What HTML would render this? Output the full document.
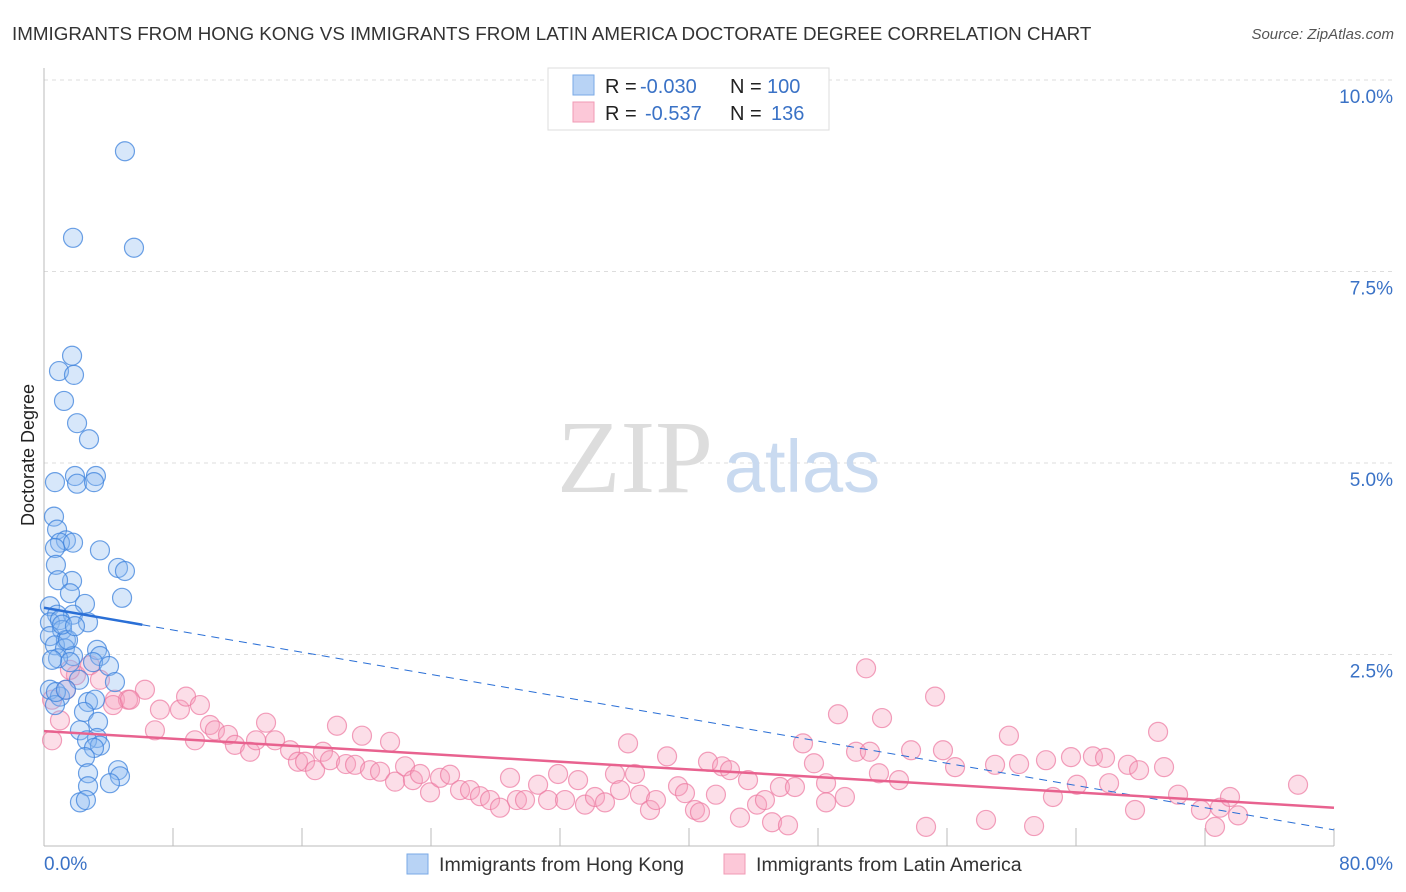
<!DOCTYPE html>
<html><head><meta charset="utf-8"><style>
html,body{margin:0;padding:0;background:#fff;}
svg{display:block;font-family:"Liberation Sans",sans-serif;}
</style></head><body>
<svg id="chart" width="1406" height="892">
<text x="12" y="40" font-size="18.8" fill="#333">IMMIGRANTS FROM HONG KONG VS IMMIGRANTS FROM LATIN AMERICA DOCTORATE DEGREE CORRELATION CHART</text>
<text x="1394" y="39" font-size="15" fill="#555" font-style="italic" text-anchor="end">Source: ZipAtlas.com</text>
<g id="grid"></g>
<text x="635" y="492" font-size="104" fill="#ddd" font-family="Liberation Serif,serif" text-anchor="middle">ZIP</text>
<text x="802" y="492" font-size="74" fill="#c9daf0" text-anchor="middle">atlas</text>
<g id="axes"></g>
<g id="pts"></g>
<g id="trends"></g>
<text transform="translate(34,455) rotate(-90)" font-size="18" fill="#222" text-anchor="middle">Doctorate Degree</text>
<g>
<rect x="548" y="68" width="281" height="62" fill="#fff" stroke="#ddd"/>
<rect x="573" y="75" width="21" height="20" fill="#b8d3f5" stroke="#7aaae6"/>
<rect x="573" y="102" width="21" height="20" fill="#fcc8d8" stroke="#f09ab4"/>
<text x="605" y="93" font-size="20" fill="#222">R = <tspan fill="#3a72c6" x="640">-0.030</tspan><tspan x="730">N = </tspan><tspan fill="#3a72c6" x="767">100</tspan></text>
<text x="605" y="120" font-size="20" fill="#222">R = <tspan fill="#3a72c6" x="645">-0.537</tspan><tspan x="730">N = </tspan><tspan fill="#3a72c6" x="771">136</tspan></text>
</g>
<g>
<rect x="407" y="854" width="21" height="20" fill="#b8d3f5" stroke="#7aaae6"/>
<text x="439" y="871" font-size="19.6" fill="#333">Immigrants from Hong Kong</text>
<rect x="724" y="854" width="21" height="20" fill="#fcc8d8" stroke="#f09ab4"/>
<text x="756" y="871" font-size="19.6" fill="#333">Immigrants from Latin America</text>
</g>
</svg>
<script>
const blueX=[5.02,1.80,5.58,1.74,0.93,1.86,1.24,2.05,2.79,1.92,3.22,0.68,2.05,3.10,0.62,0.81,1.36,0.99,1.80,3.47,0.68,4.59,5.02,0.74,1.74,0.87,4.84,1.61,0.37,2.54,0.81,1.80,0.37,0.99,2.73,1.12,0.37,1.36,0.68,3.29,1.30,1.80,0.87,1.61,1.49,3.47,3.04,4.03,2.17,4.40,0.37,0.99,2.73,3.16,2.48,3.35,2.23,0.68,3.29,2.67,3.47,3.10,2.54,2.73,4.59,4.71,2.73,4.09,2.23,2.60,1.12,1.92,0.50,0.74,1.36];
const blueY=[9.07,7.94,7.81,6.40,6.20,6.15,5.81,5.52,5.31,4.83,4.83,4.75,4.73,4.75,4.30,4.13,3.99,3.96,3.96,3.86,3.89,3.63,3.59,3.67,3.46,3.47,3.24,3.30,3.13,3.16,3.02,3.02,2.92,2.95,2.92,2.82,2.74,2.69,2.62,2.56,2.58,2.48,2.45,2.40,2.69,2.48,2.40,2.35,2.17,2.14,2.04,1.95,1.88,1.91,1.75,1.62,1.51,1.84,1.41,1.38,1.31,1.28,1.16,0.95,0.99,0.91,0.78,0.82,0.57,0.60,2.89,2.87,2.43,2.01,2.04];
const pinkX=[0.50,0.50,1.98,2.85,3.47,4.40,5.21,6.26,4.28,5.33,6.88,7.19,8.43,8.81,9.67,9.36,10.29,10.60,11.41,11.84,12.78,13.15,13.77,14.33,15.26,15.75,16.19,16.81,17.30,17.74,18.17,18.73,19.29,19.72,20.22,20.84,21.46,21.77,22.39,22.88,23.32,23.94,24.56,25.18,25.80,26.42,27.04,27.66,28.28,28.90,29.33,29.83,30.64,31.26,31.88,32.31,33.12,33.55,34.17,34.79,35.41,35.72,36.22,36.65,36.96,37.58,37.95,38.64,39.32,39.75,40.37,40.68,41.18,41.67,42.05,42.54,43.16,43.66,44.22,44.71,45.15,45.64,46.14,46.57,47.07,47.75,48.50,48.50,49.24,49.67,50.36,50.98,51.22,51.97,51.78,53.02,53.77,54.70,55.26,55.75,56.50,58.42,58.98,59.84,60.47,61.40,62.14,62.57,63.69,64.06,65.05,65.80,66.05,67.22,67.66,67.91,69.09,69.46,70.33,71.75,72.62,72.93,73.55,74.05,77.77,0.99,1.36,1.61];
const pinkY=[1.38,1.91,2.23,2.36,2.17,1.91,1.91,2.04,1.84,1.91,1.51,1.78,1.78,1.95,1.84,1.38,1.58,1.51,1.45,1.32,1.23,1.38,1.61,1.38,1.25,1.10,1.10,0.99,1.23,1.12,1.57,1.07,1.06,1.44,0.99,0.97,1.36,0.84,1.04,0.86,0.94,0.70,0.89,0.93,0.73,0.73,0.65,0.60,0.50,0.89,0.60,0.60,0.80,0.60,0.94,0.60,0.86,0.54,0.64,0.57,0.94,0.73,1.34,0.94,0.67,0.47,0.60,1.17,0.78,0.69,0.47,0.44,1.10,0.67,1.04,0.99,0.37,0.86,0.54,0.60,0.31,0.77,0.27,0.77,1.34,1.08,0.82,0.57,1.72,0.64,1.23,2.32,1.23,1.67,0.95,0.86,1.25,0.25,1.95,1.25,1.03,0.34,1.06,1.44,1.07,0.26,1.12,0.64,1.16,0.80,1.17,1.15,0.82,1.06,0.47,0.99,1.49,1.03,0.67,0.47,0.25,0.50,0.64,0.40,0.80,1.64,2.04,2.30];
const yTicks=[2.5,5.0,7.5,10.0];
const yTickLabels=["2.5%","5.0%","7.5%","10.0%"];
const xTickCount=10;
const blueTrend=[3.11,0.21];
const blueSolidEnd=6.1;
const pinkTrend=[1.50,0.50];

const NS="http://www.w3.org/2000/svg";
const X0=44,X1=1334,Y0=846,Y10=80;
function sx(v){return X0+(v/80)*(X1-X0);}
function sy(v){return Y0-(v/10)*(Y0-Y10);}
function mk(tag,attrs,parent){const e=document.createElementNS(NS,tag);for(const k in attrs)e.setAttribute(k,attrs[k]);parent.appendChild(e);return e;}
const grid=document.getElementById('grid'),axes=document.getElementById('axes'),pts=document.getElementById('pts'),tr=document.getElementById('trends');
yTicks.forEach((t,i)=>{
  const l=mk('line',{x1:X0,x2:1394,y1:sy(t),y2:sy(t),stroke:'#ddd','stroke-dasharray':'4,4'},grid);
  
  
  const tx=mk('text',{x:1393,y:sy(t)+23,'font-size':19,fill:'#3a72c6','text-anchor':'end'},axes);
  tx.textContent=yTickLabels[i];
  
  
});
mk('line',{x1:X0,x2:X0,y1:68,y2:Y0,stroke:'#bbb'},axes);
mk('line',{x1:X0,x2:X1,y1:Y0,y2:Y0,stroke:'#bbb'},axes);
for(let i=1;i<=xTickCount;i++){const t=mk('line',{x1:sx(i*8),x2:sx(i*8),y1:Y0,y2:Y0-18,stroke:'#bbb'},axes);
  
  }
const xl=mk('text',{x:44,y:870,'font-size':19,fill:'#3a72c6'},axes);xl.textContent='0.0%';


const xr=mk('text',{x:1393,y:870,'font-size':19,fill:'#3a72c6','text-anchor':'end'},axes);xr.textContent='80.0%';


pinkX.forEach((x,i)=>{const c=mk('circle',{cx:sx(x),cy:sy(pinkY[i]),r:9.5,fill:'rgba(247,160,190,0.35)',stroke:'rgba(236,120,160,0.7)','stroke-width':1.2},pts);
  
  });
blueX.forEach((x,i)=>{const c=mk('circle',{cx:sx(x),cy:sy(blueY[i]),r:9.5,fill:'rgba(140,185,240,0.35)',stroke:'rgba(60,130,220,0.75)','stroke-width':1.2},pts);
  
  });
function ty(t,x){return t[0]+(t[1]-t[0])*x/80;}
const bs=mk('line',{x1:sx(0),y1:sy(ty(blueTrend,0)),x2:sx(blueSolidEnd),y2:sy(ty(blueTrend,blueSolidEnd)),stroke:'#2a6fd6','stroke-width':2.5},tr);


const bd=mk('line',{x1:sx(blueSolidEnd),y1:sy(ty(blueTrend,blueSolidEnd)),x2:sx(80),y2:sy(ty(blueTrend,80)),stroke:'#2a6fd6','stroke-width':1,'stroke-dasharray':'8,6'},tr);


const ps=mk('line',{x1:sx(0),y1:sy(pinkTrend[0]),x2:sx(80),y2:sy(pinkTrend[1]),stroke:'#e8628f','stroke-width':2.5},tr);


</script>
</body></html>
